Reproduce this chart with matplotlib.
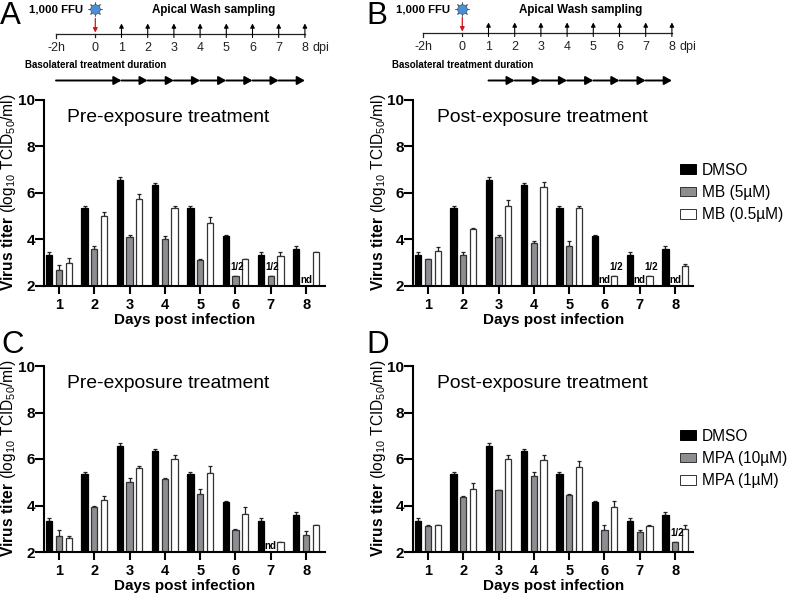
import numpy as np
import matplotlib
matplotlib.use("Agg")
import matplotlib.pyplot as plt
from matplotlib.patches import Patch

plt.rcParams['font.family'] = ['Liberation Sans', 'DejaVu Sans']
plt.rcParams['mathtext.fontset'] = 'custom'
plt.rcParams['mathtext.rm'] = 'Liberation Sans'
plt.rcParams['mathtext.bf'] = 'Liberation Sans:bold'

W, H = 787, 594
nan = float('nan')

days = [1, 2, 3, 4, 5, 6, 7, 8]

dmso = [3.35, 5.35, 6.55, 6.35, 5.35, 4.15, 3.35, 3.6]
dmso_err = [0.1, 0.1, 0.15, 0.1, 0.1, 0.05, 0.1, 0.1]

a_gray = [2.7, 3.6, 4.1, 4.0, 3.1, 2.45, 2.45, nan]
a_gray_err = [0.22, 0.1, 0.1, 0.17, 0.08, 0, 0, 0]
a_white = [3.0, 5.0, 5.75, 5.35, 4.7, 3.15, 3.3, 3.45]
a_white_err = [0.2, 0.2, 0.2, 0.1, 0.25, 0.03, 0.15, 0.03]

b_gray = [3.15, 3.35, 4.1, 3.85, 3.7, nan, nan, nan]
b_gray_err = [0.03, 0.1, 0.1, 0.1, 0.25, 0, 0, 0]
b_white = [3.5, 4.45, 5.45, 6.25, 5.35, 2.45, 2.45, 2.85]
b_white_err = [0.17, 0.03, 0.25, 0.22, 0.1, 0, 0, 0.1]

c_gray = [2.7, 3.95, 5.0, 5.15, 4.5, 2.95, nan, 2.75]
c_gray_err = [0.25, 0.03, 0.17, 0.02, 0.2, 0.03, 0, 0.17]
c_white = [2.6, 4.25, 5.6, 6.0, 5.4, 3.65, 2.45, 3.15]
c_white_err = [0.1, 0.17, 0.1, 0.17, 0.28, 0.3, 0, 0.02]

d_gray = [3.1, 4.35, 4.65, 5.25, 4.45, 2.95, 2.85, 2.45]
d_gray_err = [0.08, 0.07, 0.03, 0.17, 0.03, 0.2, 0.08, 0]
d_white = [3.15, 4.7, 6.0, 5.95, 5.65, 3.95, 3.1, 3.0]
d_white_err = [0.02, 0.25, 0.17, 0.22, 0.28, 0.25, 0.08, 0.17]

# (day, series index, text)
a_notes = [(6, 1, '1/2'), (7, 1, '1/2'), (8, 1, 'nd')]
b_notes = [(6, 1, 'nd'), (6, 2, '1/2'), (7, 1, 'nd'), (7, 2, '1/2'), (8, 1, 'nd')]
c_notes = [(7, 1, 'nd')]
d_notes = [(8, 1, '1/2')]

sampling_days = [1, 2, 3, 4, 5, 6, 7, 8]
timeline_ticks = [-1.5, 0, 1, 2, 3, 4, 5, 6, 7, 8]
timeline_labels = ['-2h', '0', '1', '2', '3', '4', '5', '6', '7', '8']
pre_segments = [-1.5, 1, 2, 3, 4, 5, 6, 7, 8]
post_segments = [1, 2, 3, 4, 5, 6, 7, 8]

COLORS = ['black', '#8e8e92', 'white']
GRAY_EDGE = '#333333'
UNIT_PX = 35.3     # one day on the bar charts
BAR_OFF = 9.7 / UNIT_PX
BAR_W = 6.2 / UNIT_PX

fig = plt.figure(figsize=(W / 100, H / 100), dpi=100)


def ftext(x, y, s, **kw):
    """ Text placed in picture pixels, y going down """
    return fig.text(x / W, 1 - y / H, s, **kw)


def panel(left, right, top, bottom, tick1, title, title_x, gray, gray_err, white, white_err, notes):
    ax = fig.add_axes([left / W, 1 - bottom / H, (right - left) / W, (bottom - top) / H])
    ax.set_xlim(1 - (tick1 - left) / UNIT_PX, 1 + (right - tick1) / UNIT_PX)
    ax.set_ylim(2, 10)
    series = [(dmso, dmso_err), (gray, gray_err), (white, white_err)]
    for i, (vals, errs) in enumerate(series):
        x = np.array(days) + (i - 1) * BAR_OFF
        lower = np.zeros(len(errs))
        ax.bar(x, vals, BAR_W, color=COLORS[i], edgecolor='black' if i == 0 else GRAY_EDGE,
               linewidth=0.9, zorder=2)
        ax.errorbar(x, vals, yerr=[lower, errs], fmt='none', ecolor='#222222', elinewidth=0.9,
                    capsize=1.4, capthick=0.9, zorder=1)
    for day, idx, s in notes:
        x = day + (idx - 1) * BAR_OFF
        vals = series[idx][0]
        val = vals[day - 1]
        if s == 'nd':
            ax.text(x, 2.06, s, ha='center', va='bottom', fontsize=7, fontweight='bold', zorder=3)
        else:
            ax.text(x + 0.05, val + 0.14, s, ha='center', va='bottom', fontsize=7, fontweight='bold', zorder=3)
    for side in ['top', 'right']:
        ax.spines[side].set_visible(False)
    for side in ['left', 'bottom']:
        ax.spines[side].set_linewidth(1.5)
    ax.set_xticks(days)
    ax.set_yticks([2, 4, 6, 8, 10])
    ax.tick_params(axis='y', width=1.5, length=6.5, pad=0, labelsize=11)
    ax.tick_params(axis='x', width=1.5, length=5.8, pad=3, labelsize=10.5)
    for lab in ax.get_xticklabels() + ax.get_yticklabels():
        lab.set_fontweight('bold')
    ax.patch.set_alpha(0)
    ftext(title_x, top + 17, title, fontsize=13.9, ha='left', va='center')
    ftext(left + 141, bottom + 34, 'Days post infection', fontsize=11, fontweight='bold',
          ha='center', va='center')
    ftext(left - 35, (top + bottom) / 2 - 1,
          r'$\mathbf{Virus\ titer}\ \mathrm{(log_{10}\ TCID_{50}/ml)}$',
          fontsize=11.2, rotation=90, ha='center', va='center')
    return ax


def timeline(x_zero, axis_y, arrow_y, segments, label_x):
    day_px = 26.2
    x0 = x_zero - 3 * day_px
    x1 = x_zero + 10 * day_px
    ax = fig.add_axes([x0 / W, 1 - 95 / H, (x1 - x0) / W, 95 / H])
    ax.set_xlim(-3, 10)
    ax.set_ylim(95, 0)
    ax.axis('off')
    ax.plot([timeline_ticks[0], timeline_ticks[-1]], [axis_y, axis_y], color='#222222', lw=0.9)
    ax.plot([timeline_ticks[0]] * 2, [axis_y, axis_y + 4], color='#222222', lw=0.9)
    ax.plot([0, 0], [axis_y, axis_y + 3], color='#222222', lw=0.9)
    for d in sampling_days:
        ax.annotate('', xy=(d, axis_y - 10), xytext=(d, axis_y + 4),
                    arrowprops=dict(arrowstyle='-|>,head_width=0.13,head_length=0.25', color='black',
                                    lw=0.8, shrinkA=0, shrinkB=0))
    ax.annotate('', xy=(0, axis_y - 1), xytext=(0, axis_y - 15),
                arrowprops=dict(arrowstyle='-|>,head_width=0.13,head_length=0.25', color='#d0141c',
                                lw=0.9, shrinkA=0, shrinkB=0))
    for t, s in zip(timeline_ticks, timeline_labels):
        ax.text(t, axis_y + 17.5, s, fontsize=9, color='#222222', ha='center', va='baseline')
    ax.text(8.28, axis_y + 17.5, 'dpi', fontsize=9, color='#222222', ha='left', va='baseline')
    for a, b in zip(segments[:-1], segments[1:]):
        ax.annotate('', xy=(b, arrow_y), xytext=(a, arrow_y),
                    arrowprops=dict(arrowstyle='-|>,head_width=0.25,head_length=0.45', color='black',
                                    lw=1.4, shrinkA=0, shrinkB=0))
    # inoculum icon
    ax.scatter([0], [9], marker=(8, 2, 0), s=90, color='#555555', linewidths=0.7, zorder=3)
    ax.scatter([0], [9], s=48, color='#4f8fd0', edgecolors='#2f5f90', linewidths=0.5, zorder=4)
    ax.text(-0.46, 9, '1,000 FFU', fontsize=8.2, fontweight='bold', ha='right', va='center')
    ax.text(4.5, 9.5, 'Apical Wash sampling', fontsize=8.4, fontweight='bold', ha='center', va='center')
    ftext(label_x, 64.5, 'Basolateral treatment duration', fontsize=7, fontweight='bold',
          ha='left', va='center')


panel(44, 325, 100, 286, 59, 'Pre-exposure treatment', 67, a_gray, a_gray_err, a_white, a_white_err, a_notes)
panel(413, 693, 100, 286, 428, 'Post-exposure treatment', 437, b_gray, b_gray_err, b_white, b_white_err, b_notes)
panel(44, 325, 366, 552, 59, 'Pre-exposure treatment', 67, c_gray, c_gray_err, c_white, c_white_err, c_notes)
panel(413, 693, 366, 552, 428, 'Post-exposure treatment', 437, d_gray, d_gray_err, d_white, d_white_err, d_notes)

timeline(95.3, 33.5, 80.5, pre_segments, 25)
timeline(462.3, 32.5, 80.5, post_segments, 392)

for s, x, y in [('A', 0, 24), ('B', 366, 24), ('C', 1, 353), ('D', 366, 353)]:
    ftext(x, y, s, fontsize=22.5, ha='left', va='baseline')


def legend(labels, centre_y):
    handles = [Patch(facecolor=c, edgecolor='black' if i == 0 else GRAY_EDGE, linewidth=0.7)
               for i, c in enumerate(COLORS)]
    fig.legend(handles, labels, loc='center left', bbox_to_anchor=(680 / W, 1 - centre_y / H),
               frameon=False, fontsize=11.2, handlelength=1.03, handleheight=0.6, handletextpad=0.38,
               labelspacing=0.47, borderpad=0, borderaxespad=0)


legend(['DMSO', 'MB (5µM)', 'MB (0.5µM)'], 192.5)
legend(['DMSO', 'MPA (10µM)', 'MPA (1µM)'], 458.5)

fig.savefig('out.png', dpi=100)
